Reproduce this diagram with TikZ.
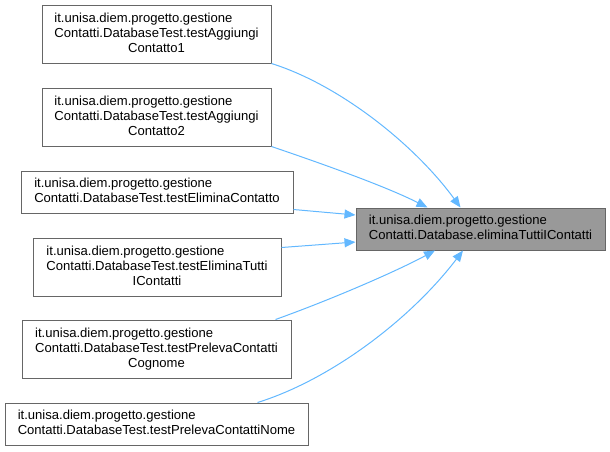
\documentclass[tikz,border=0pt]{standalone}
\usepackage{fontspec}
\setmainfont{Liberation Sans}
\usetikzlibrary{arrows.meta,calc}
\definecolor{edgeblue}{HTML}{63B8FF}
\definecolor{boxborder}{HTML}{666666}
\definecolor{targetfill}{HTML}{999999}
\begin{document}
\begin{tikzpicture}[x=0.75pt,y=-0.75pt,
  tbox/.style={draw=boxborder, fill=white, line width=0.75pt, inner sep=0pt,
    font=\fontsize{9.8}{11.25}\selectfont},
  target/.style={tbox, fill=targetfill},
  edge/.style={draw=edgeblue, line width=0.75pt,
    -{Triangle[length=8.25pt,width=6.75pt,fill=edgeblue]}}]
\useasboundingbox (0,0) rectangle (610,451);
\node[tbox, minimum width=229*0.75pt, minimum height=58*0.75pt] (b1) at (156.5,34)
  {\begin{tabular}{@{}l@{}}it.unisa.diem.progetto.gestione\\Contatti.DatabaseTest.testAggiungi\\\multicolumn{1}{@{}c@{}}{Contatto1}\end{tabular}};
\node[tbox, minimum width=229*0.75pt, minimum height=58*0.75pt] (b2) at (156.5,117)
  {\begin{tabular}{@{}l@{}}it.unisa.diem.progetto.gestione\\Contatti.DatabaseTest.testAggiungi\\\multicolumn{1}{@{}c@{}}{Contatto2}\end{tabular}};
\node[tbox, minimum width=272*0.75pt, minimum height=42*0.75pt] (b3) at (157,192)
  {\begin{tabular}{@{}l@{}}it.unisa.diem.progetto.gestione\\Contatti.DatabaseTest.testEliminaContatto\end{tabular}};
\node[tbox, minimum width=248*0.75pt, minimum height=58*0.75pt] (b4) at (157,267)
  {\begin{tabular}{@{}l@{}}it.unisa.diem.progetto.gestione\\Contatti.DatabaseTest.testEliminaTutti\\\multicolumn{1}{@{}c@{}}{IContatti}\end{tabular}};
\node[tbox, minimum width=269*0.75pt, minimum height=58*0.75pt] (b5) at (156.5,349)
  {\begin{tabular}{@{}l@{}}it.unisa.diem.progetto.gestione\\Contatti.DatabaseTest.testPrelevaContatti\\\multicolumn{1}{@{}c@{}}{Cognome}\end{tabular}};
\node[tbox, minimum width=303*0.75pt, minimum height=42*0.75pt] (b6) at (156.5,424)
  {\begin{tabular}{@{}l@{}}it.unisa.diem.progetto.gestione\\Contatti.DatabaseTest.testPrelevaContattiNome\end{tabular}};
\node[target, minimum width=249*0.75pt, minimum height=42*0.75pt] (t) at (480.5,229)
  {\begin{tabular}{@{}l@{}}it.unisa.diem.progetto.gestione\\Contatti.Database.eliminaTuttiIContatti\end{tabular}};
\draw[edge] (b1.south east) .. controls (340,85) and (415,145) .. ($(t.north)+(-20,0)$);
\draw[edge] (b2.south east) .. controls (320,163) and (385,186) .. ($(t.north)+(-53,0)$);
\draw[edge] ($(b3.south east)+(0,-4)$) -- ($(t.west)+(0,-14)$);
\draw[edge] ($(b4.north east)+(0,10)$) -- ($(t.west)+(0,13)$);
\draw[edge] ($(b5.north east)+(-16,0)$) .. controls (330,300) and (395,272) .. ($(t.south)+(-45.5,0)$);
\draw[edge] ($(b6.north east)+(-51,0)$) .. controls (330,380) and (410,320) .. ($(t.south)+(-17.5,0)$);
\end{tikzpicture}
\end{document}
